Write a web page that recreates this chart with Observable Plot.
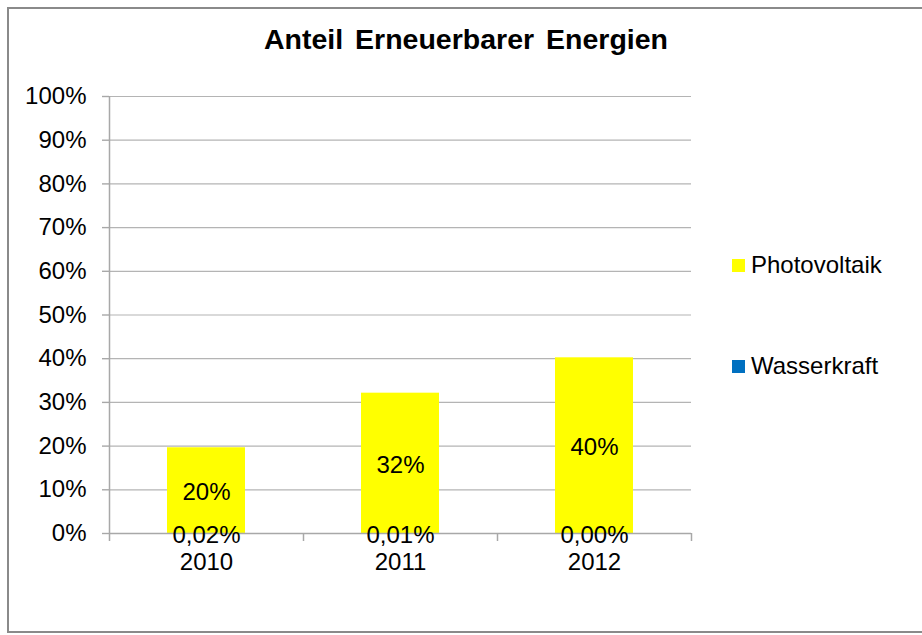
<!DOCTYPE html>
<html>
<head>
<meta charset="utf-8">
<script src="https://cdn.jsdelivr.net/npm/d3@7"></script>
<script src="https://cdn.jsdelivr.net/npm/@observablehq/plot@0.6"></script>
<style>
  html, body { margin: 0; padding: 0; background: #fff; }
  #wrap { position: relative; width: 922px; height: 635px; overflow: hidden; font-family: "Liberation Sans", Arial, sans-serif; }
  #border { position: absolute; left: 7px; top: 7px; width: 940px; height: 626px; border: 2px solid #8a8a8a; box-sizing: border-box; }
  #title { position: absolute; left: 0; width: 932px; top: 23px; text-align: center; font-weight: bold; font-size: 28.5px; color: #000; word-spacing: 4px; }
  #chart { position: absolute; left: 0; top: 0; }
  .leg { position: absolute; left: 732px; font-size: 24px; color: #000; display: flex; align-items: center; }
  .leg span.sw { display: inline-block; width: 13px; height: 13px; margin-right: 6px; }
</style>
</head>
<body>
<div id="wrap">
  <div id="border"></div>
  <div id="title">Anteil Erneuerbarer Energien</div>
  <div id="chart"></div>
</div>
<script>
const years = ["2010", "2011", "2012"];
const series = ["Wasserkraft", "Photovoltaik"];
const colors = ["#0070c0", "#ffff00"];
const wasserkraft = [0.0002, 0.0001, 0.00004];
const photovoltaik = [0.196, 0.321, 0.402];
const yTicks = [0, 0.1, 0.2, 0.3, 0.4, 0.5, 0.6, 0.7, 0.8, 0.9, 1.0];
const legendTop = [265, 366];

const de = d3.formatLocale({decimal: ",", thousands: ".", grouping: [3], currency: ["", " €"]});
const fmtSmall = de.format(".2%");
const fmtBig = de.format(".0%");

const data = [];
years.forEach((y, i) => {
  data.push({year: y, series: "Wasserkraft", value: wasserkraft[i], label: fmtSmall(wasserkraft[i])});
  data.push({year: y, series: "Photovoltaik", value: photovoltaik[i], label: fmtBig(photovoltaik[i])});
});

const W = 922, H = 635, mL = 109, mR = 231, mT = 96, mB = 102;
const step = (W - mL - mR) / years.length;
const axisColor = "#a8a8a8";

const font = "'Liberation Sans', Arial, sans-serif";
const plot = Plot.plot({
  width: W, height: H,
  marginLeft: mL, marginRight: mR, marginTop: mT, marginBottom: mB,
  style: {fontFamily: font, fontSize: "24px", color: "#000", background: "transparent"},
  x: {domain: years, paddingInner: 0.6, paddingOuter: 0.3, axis: null, label: null},
  y: {domain: [0, 1], axis: null, label: null},
  color: {domain: series, range: colors},
  marks: [
    Plot.ruleY(yTicks.slice(1), {stroke: "#b4b4b4", strokeWidth: 1.2}),
    Plot.barY(data, Plot.stackY({x: "year", y: "value", fill: "series", order: series})),
    Plot.axisY({ticks: yTicks, tickFormat: d3.format(".0%"), tickSize: 7, tickPadding: 16, fontSize: 24, stroke: axisColor, strokeWidth: 1.4, fill: "#000", label: null}),
    Plot.ruleY([0], {stroke: axisColor, strokeWidth: 1.5}),
    // left boundary of each category (the first one is the y axis line)
    Plot.ruleX(years, {x: (d) => d, dx: -step / 2, y1: (d) => d === years[0] ? 1 : 0, y2: () => 0, insetBottom: -8, stroke: axisColor, strokeWidth: 1.5}),
    // right boundary of the last category
    Plot.ruleX(years.slice(-1), {x: (d) => d, dx: step / 2, y1: () => 0, y2: () => 0, insetBottom: -8, stroke: axisColor, strokeWidth: 1.5}),
    Plot.text(data, Plot.stackY({x: "year", y: "value", z: "series", order: series, text: "label", fill: "#000", fontSize: 24, lineAnchor: "middle", dy: 2})),
    Plot.axisX({tickSize: 0, tickPadding: 19, fontSize: 24, fill: "#000", lineAnchor: "top", label: null})
  ]
});
document.getElementById("chart").appendChild(plot);

const wrap = document.getElementById("wrap");
[1, 0].forEach((si, k) => {
  const d = document.createElement("div");
  d.className = "leg";
  d.style.top = (legendTop[k] - 14) + "px";
  d.style.height = "28px";
  d.innerHTML = `<span class="sw" style="background:${colors[si]}"></span><span>${series[si]}</span>`;
  wrap.appendChild(d);
});
</script>
</body>
</html>
